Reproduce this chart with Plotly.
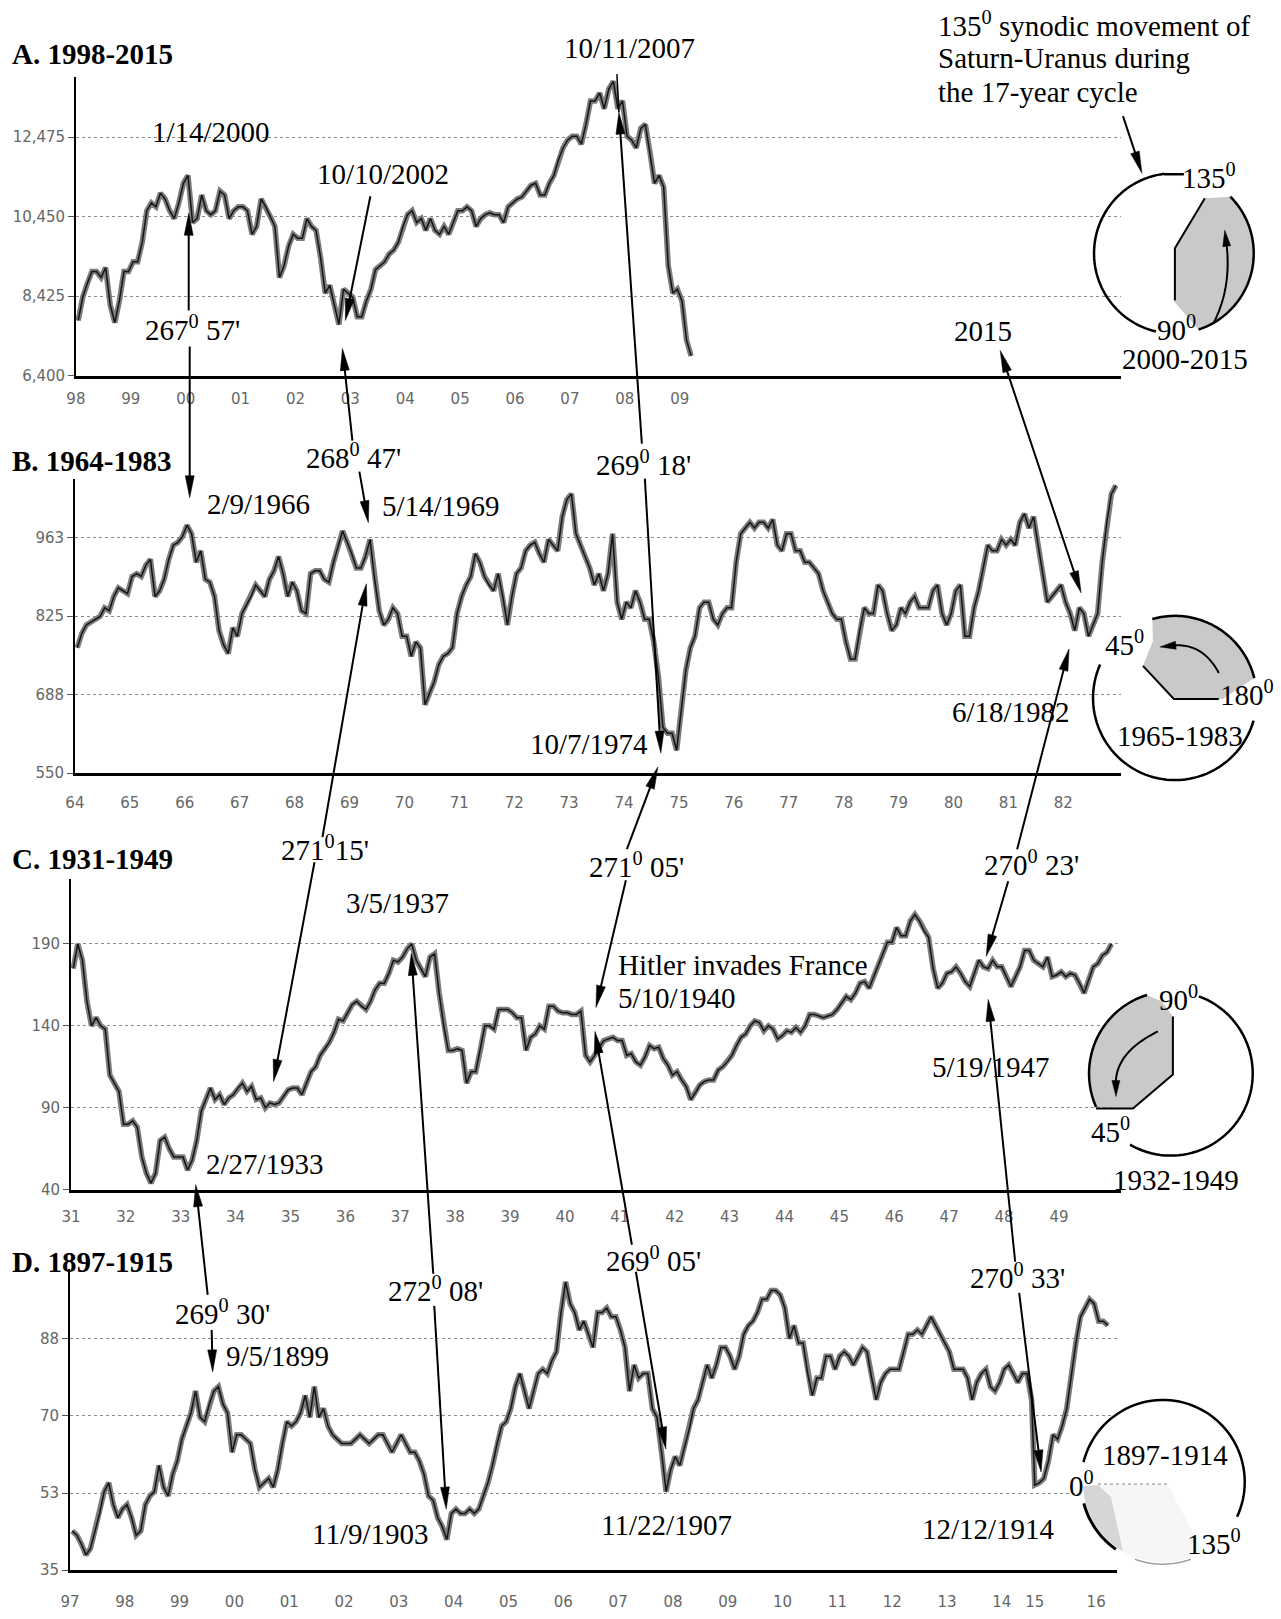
import numpy as np
import plotly.graph_objects as go

W, H = 1281, 1619
SERIF = "Liberation Serif"
SANS = "DejaVu Sans"

# ---------------- data (monthly levels) ----------------
a_start = 1998
a_values = [
    7800, 8400, 8750, 9050, 9050, 8900, 9150, 8200, 7750, 8300, 9050, 9050,
    9300, 9300, 9800, 10600, 10800, 10700, 11050, 10900, 10600, 10400, 10800, 11300,
    11500, 10300, 10400, 11000, 10600, 10500, 10600, 11100, 11000, 10400, 10600, 10700,
    10700, 10600, 10000, 10200, 10900, 10700, 10450, 10200, 8900, 9200, 9700, 10000,
    9900, 9900, 10400, 10200, 10100, 9400, 8500, 8700, 8200, 7700, 8600, 8500,
    8400, 7900, 7900, 8300, 8600, 9100, 9200, 9300, 9500, 9600, 9800, 10200,
    10500, 10600, 10300, 10400, 10100, 10400, 10100, 10000, 10200, 10000, 10300, 10600,
    10600, 10700, 10600, 10200, 10400, 10500, 10550, 10500, 10500, 10300, 10700, 10800,
    10900, 10950, 11100, 11250, 11300, 11000, 11000, 11300, 11500, 11900, 12200, 12400,
    12500, 12500, 12300, 12800, 13400, 13400, 13600, 13200, 13700, 13900, 13200, 13400,
    12500, 12400, 12200, 12700, 12800, 12100, 11300, 11500, 11200, 9200, 8500, 8600,
    8300, 7300, 6900,
]
a_tick_years = list(range(1998, 2010))
a_tick_text = ["98", "99", "00", "01", "02", "03", "04", "05", "06", "07", "08", "09"]
a_y_ticks = [6400, 8425, 10450, 12475]
a_y_text = ["6,400", "8,425", "10,450", "12,475"]

b_start = 1964
b_values = [
    770, 795, 810, 815, 820, 825, 840, 835, 860, 875, 870, 865,
    895, 900, 895, 915, 925, 860, 870, 890, 925, 950, 955, 965,
    985, 970, 920, 940, 890, 885, 860, 800, 775, 760, 805, 790,
    830, 845, 860, 880, 870, 860, 890, 905, 930, 900, 860, 885,
    870, 835, 830, 900, 905, 905, 890, 885, 920, 950, 975, 955,
    935, 910, 910, 930, 960, 890, 835, 810, 820, 840, 830, 790,
    790, 755, 780, 770, 670, 690, 710, 740, 755, 760, 770, 830,
    860, 880, 895, 935, 920, 895, 880, 870, 900, 860, 810, 860,
    900, 910, 940, 950, 955, 935, 920, 960, 950, 940, 1000, 1030,
    1040, 970, 950, 930, 910, 880, 900, 870, 900, 970, 850, 820,
    850, 840, 870, 850, 820, 820, 780, 720, 630, 620, 620, 590,
    660, 730, 770, 790, 840, 850, 850, 820, 810, 830, 840, 840,
    920, 970, 980, 990, 980, 990, 990, 980, 995, 950, 940, 970,
    970, 940, 940, 920, 920, 910, 900, 870, 850, 830, 820, 820,
    780, 750, 750, 800, 840, 830, 830, 880, 870, 830, 800, 810,
    840, 830, 850, 860, 840, 840, 840, 870, 880, 830, 810, 830,
    870, 880, 790, 790, 840, 870, 910, 950, 940, 940, 960, 950,
    960, 950, 990, 1005, 980, 1000, 950, 900, 850, 860, 870, 880,
    850, 830, 800, 840, 830, 790, 810, 830, 920, 990, 1040, 1055,
]
b_tick_years = list(range(1964, 1983))
b_tick_text = ["64", "65", "66", "67", "68", "69", "70", "71", "72", "73",
               "74", "75", "76", "77", "78", "79", "80", "81", "82"]
b_y_ticks = [550, 687.67, 825.33, 963]
b_y_text = ["550", "688", "825", "963"]

c_start = 1931
c_values = [
    175, 190, 180, 155, 140, 145, 140, 138, 110, 105, 100, 80,
    80, 82, 78, 60, 50, 44, 50, 70, 72, 65, 60, 60,
    60, 52, 58, 70, 88, 95, 102, 95, 98, 92, 96, 98,
    102, 105, 100, 103, 95, 96, 90, 93, 92, 93, 97, 101,
    102, 102, 98, 105, 112, 115, 122, 126, 130, 136, 144, 143,
    148, 153, 155, 152, 150, 155, 162, 166, 166, 172, 180, 179,
    182, 187, 190, 180, 175, 170, 182, 184, 160, 140, 125, 125,
    126, 125, 105, 112, 112, 125, 140, 140, 138, 150, 150, 150,
    148, 145, 145, 125, 133, 135, 140, 138, 152, 152, 149, 148,
    148, 147, 147, 149, 122, 118, 122, 127, 131, 132, 133, 131,
    131, 122, 123, 118, 116, 121, 128, 126, 127, 120, 116, 110,
    112, 107, 103, 95, 99, 104, 106, 107, 107, 113, 115, 118,
    122, 128, 133, 135, 140, 143, 142, 137, 140, 138, 132, 134,
    137, 136, 139, 136, 140, 147, 147, 146, 145, 146, 147, 150,
    154, 158, 156, 160, 166, 167, 163, 170, 178, 184, 191, 191,
    200, 195, 195, 204, 208, 204, 198, 194, 175, 163, 166, 172,
    173, 176, 172, 167, 164, 172, 180, 176, 175, 180, 176, 176,
    170, 164, 170, 176, 186, 186, 180, 178, 176, 182, 170, 171,
    173, 170, 172, 171, 166, 160, 168, 176, 178, 183, 185, 190,
]
c_tick_years = list(range(1931, 1950))
c_tick_text = ["31", "32", "33", "34", "35", "36", "37", "38", "39", "40",
               "41", "42", "43", "44", "45", "46", "47", "48", "49"]
c_y_ticks = [40, 90, 140, 190]
c_y_text = ["40", "90", "140", "190"]

d_start = 1897
d_values_pre = [
    44, 43, 41, 38.5, 40, 44, 48, 53, 55, 50, 47, 49,
    50, 47, 43, 44, 50, 52, 53, 59, 54, 52, 57, 60,
    65, 68, 71, 76, 70, 69, 73, 76, 77, 73, 71, 62,
    66, 66, 65, 64, 58, 54, 55, 56, 54, 58, 64, 69,
    68, 69, 71, 75, 70, 77, 70, 72, 68, 66, 65, 64,
    64, 64, 65, 66, 65, 64, 65, 66, 66, 64, 62, 64,
    66, 64, 62, 62, 60, 57, 52, 51, 47, 45, 42, 48,
    49, 48, 48, 49, 48, 49, 52, 55, 59, 64, 68, 69,
    72, 77, 80, 76, 72, 76, 80, 81, 80, 83, 85, 94,
    101, 96, 94, 90, 92, 89, 86, 94, 94, 95, 93, 93,
    90, 86, 76, 82, 79, 80, 80, 72, 70, 62, 53, 58,
    61, 59, 63, 67, 72, 74, 78, 82, 79, 82, 86, 86,
    84, 81, 84, 89, 91, 92, 94, 97, 97, 99, 99, 98,
    95, 88, 91, 87, 87, 80, 75, 79, 79, 84, 84, 81,
    84, 85, 84, 82, 84, 86, 85, 79, 74, 78, 80, 81,
    81, 81, 85, 89, 89, 90, 89, 91, 93, 91, 89, 87,
    85, 81, 81, 81, 79, 74, 78, 80, 81, 77, 76, 78,
    81, 82, 80, 78, 80, 80, 74,
]
d_resume = 1914.6
d_values_post = [54.5, 55, 56, 60, 66, 65, 68, 72, 80, 87, 93, 95, 97, 96, 92, 92, 91]
d_tick_pos = list(range(1897, 1915)) + [1914.6, 1915.72]
d_tick_text = ["97", "98", "99", "00", "01", "02", "03", "04", "05", "06", "07",
               "08", "09", "10", "11", "12", "13", "14", "15", "16"]
d_y_ticks = [35, 52.67, 70.33, 88]
d_y_text = ["35", "53", "70", "88"]

# ---------------- helpers (page-pixel -> paper) ----------------
def px(x):
    return (x * 1.006 - 7) / W

def py(y):
    return 1 - (y * 1.007) / H

def P(x, y):
    return f"{px(x):.5f},{py(y):.5f}"

shapes = []
annotations = []

def text(s, x, y, size=29, anchor="center", bold=False, color="black"):
    if bold:
        s = f"<b>{s}</b>"
    annotations.append(dict(text=s, x=px(x), y=py(y), xref="paper", yref="paper",
                            showarrow=False, xanchor=anchor, yanchor="middle",
                            font=dict(family=SERIF, size=size, color=color)))

def seg(p0, p1, width=2, color="black", dash=None):
    ln = dict(color=color, width=width)
    if dash:
        ln["dash"] = dash
    shapes.append(dict(type="line", xref="paper", yref="paper",
                       x0=px(p0[0]), y0=py(p0[1]), x1=px(p1[0]), y1=py(p1[1]), line=ln))

def head(tip, frm, L=22, hw=4.5):
    tx, ty = tip
    dx, dy = tx - frm[0], ty - frm[1]
    n = np.hypot(dx, dy)
    ux, uy = dx / n, dy / n
    bx, by = tx - L * ux, ty - L * uy
    pts = [(tx, ty), (bx - hw * uy, by + hw * ux), (bx + hw * uy, by - hw * ux)]
    shapes.append(dict(type="path", xref="paper", yref="paper",
                       path="M " + " L ".join(P(*p) for p in pts) + " Z",
                       fillcolor="black", line=dict(color="black", width=0.5)))
    return (tx - (L - 4) * ux, ty - (L - 4) * uy)

def arrow(tip, tail, both=False, L=22, hw=4.5, width=2):
    end = head(tip, tail, L, hw)
    start = tail
    if both:
        start = head(tail, tip, L, hw)
    seg(start, end, width=width)

def arc_pts(cx, cy, r, a0, a1, n=60):
    angs = np.radians(np.linspace(a0, a1, n))
    return [(cx + r * np.cos(a), cy - r * np.sin(a)) for a in angs]

def poly(pts, close=False, fill=None, color="black", width=2):
    path = "M " + " L ".join(P(*p) for p in pts) + (" Z" if close else "")
    d = dict(type="path", xref="paper", yref="paper", path=path,
             line=dict(color=color, width=width))
    if fill:
        d["fillcolor"] = fill
    shapes.append(d)

def quad(p0, c, p2, n=30):
    t = np.linspace(0, 1, n)
    return [((1 - s) ** 2 * p0[0] + 2 * (1 - s) * s * c[0] + s ** 2 * p2[0],
             (1 - s) ** 2 * p0[1] + 2 * (1 - s) * s * c[1] + s ** 2 * p2[1]) for s in t]

# ---------------- figure ----------------
fig = go.Figure()

def months(start, n):
    return start + (np.arange(n) + 0.5) / 12.0

series = [
    (months(a_start, len(a_values)), a_values, "x", "y"),
    (months(b_start, len(b_values)), b_values, "x2", "y2"),
    (months(c_start, len(c_values)), c_values, "x3", "y3"),
    (np.concatenate([months(d_start, len(d_values_pre)),
                     d_resume + np.arange(len(d_values_post)) / 12.0]),
     d_values_pre + d_values_post, "x4", "y4"),
]
for xs, ys, xa, ya in series:
    fig.add_trace(go.Scatter(x=xs, y=ys, mode="lines", xaxis=xa, yaxis=ya,
                             line=dict(color="#7c7c7c", width=5.5), hoverinfo="skip",
                             showlegend=False))
    fig.add_trace(go.Scatter(x=xs, y=ys, mode="lines", xaxis=xa, yaxis=ya,
                             line=dict(color="#151515", width=1.5), hoverinfo="skip",
                             showlegend=False))

panels = [
    ("", 73, 1120, 77, 375, [1998, 2017.04], [6400, 14006], 8,
     a_tick_years, a_tick_text, a_y_ticks, a_y_text),
    ("2", 72, 1120, 478, 772, [1964, 1983.05], [550, 1066.7], 14,
     b_tick_years, b_tick_text, b_y_ticks, b_y_text),
    ("3", 68, 1120, 878, 1188, [1931, 1950.13], [40, 229.5], 12,
     c_tick_years, c_tick_text, c_y_ticks, c_y_text),
    ("4", 67, 1116, 1267, 1568, [1897, 1916.1], [35, 104], 16,
     d_tick_pos, d_tick_text, d_y_ticks, d_y_text),
]
tickfont = dict(family=SANS, size=15, color="#666666")
layout_axes = {}
for key, x0, x1, y0, y1, xr, yr, tl, xtv, xtt, ytv, ytt in panels:
    layout_axes["xaxis" + key] = dict(
        domain=[px(x0), px(x1)], range=xr, anchor="y" + key,
        showgrid=False, zeroline=False, showline=True, linecolor="black", linewidth=2.5,
        tickmode="array", tickvals=xtv, ticktext=xtt, ticks="outside", ticklen=tl,
        tickcolor="rgba(0,0,0,0)", tickfont=tickfont, fixedrange=True)
    layout_axes["yaxis" + key] = dict(
        domain=[py(y1), py(y0)], range=yr, anchor="x" + key,
        showgrid=True, gridcolor="#8a8a8a", griddash="dot", gridwidth=1,
        zeroline=False, showline=True, linecolor="black", linewidth=1.5,
        tickmode="array", tickvals=ytv, ticktext=ytt, ticks="outside", ticklen=6,
        tickcolor="#555555", tickfont=tickfont, fixedrange=True)

# ---------------- panel titles ----------------
text("A. 1998-2015", 7, 54, anchor="left", bold=True)
text("B. 1964-1983", 7, 460, anchor="left", bold=True)
text("C. 1931-1949", 7, 858, anchor="left", bold=True)
text("D. 1897-1915", 7, 1260, anchor="left", bold=True)

# ---------------- date labels ----------------
for s, x, y in [("10/11/2007", 628, 48), ("1/14/2000", 208, 132), ("10/10/2002", 381, 174),
                ("2015", 982, 331), ("2/9/1966", 256, 503), ("5/14/1969", 439, 505),
                ("10/7/1974", 587, 743), ("6/18/1982", 1010, 711), ("3/5/1937", 395, 902),
                ("2/27/1933", 262, 1162), ("5/19/1947", 990, 1066), ("9/5/1899", 275, 1354),
                ("11/9/1903", 368, 1532), ("11/22/1907", 665, 1523), ("12/12/1914", 987, 1527)]:
    text(s, x, y)
text("Hitler invades France", 614, 964, anchor="left")
text("5/10/1940", 614, 997, anchor="left")

# ---------------- angle labels ----------------
for s, x, y in [("267<sup>0</sup> 57'", 190, 328), ("268<sup>0</sup> 47'", 351, 455),
                ("269<sup>0</sup> 18'", 642, 462), ("271<sup>0</sup>15'", 323, 847),
                ("271<sup>0</sup> 05'", 635, 864), ("270<sup>0</sup> 23'", 1030, 862),
                ("269<sup>0</sup> 30'", 220, 1310), ("272<sup>0</sup> 08'", 433, 1287),
                ("269<sup>0</sup> 05'", 652, 1257), ("270<sup>0</sup> 33'", 1016, 1274)]:
    text(s, x, y)

# ---------------- connecting arrows ----------------
for tip, tail in [((186, 213), (186, 310)), ((187, 497), (187, 346)),
                  ((343, 320), (368, 196)), ((340, 348), (350, 440)),
                  ((366, 522), (357, 471)), ((617, 112), (640, 443)),
                  ((659, 752), (643, 478)), ((364, 583), (320, 836)),
                  ((271, 1080), (312, 861)), ((656, 766), (625, 848)),
                  ((594, 1006), (624, 879)), ((1068, 648), (1016, 848)),
                  ((985, 955), (1007, 880)), ((193, 1183), (205, 1293)),
                  ((210, 1370), (209, 1328)), ((409, 952), (431, 1272)),
                  ((444, 1507), (432, 1304)), ((593, 1030), (630, 1243)),
                  ((664, 1447), (634, 1270)), ((987, 998), (1014, 1260)),
                  ((1040, 1470), (1018, 1291)), ((1141, 173), (1122, 116))]:
    arrow(tip, tail)
seg((617, 112), (615, 74), width=1.5)
arrow((1080, 592), (999, 350), both=True)

# ---------------- explanatory text ----------------
text("135<sup>0</sup> synodic movement of", 935, 24, anchor="left")
text("Saturn-Uranus during", 935, 58, anchor="left")
text("the 17-year cycle", 935, 92, anchor="left")

# ---------------- circle A (2000-2015) ----------------
o = -10
cx, cy, r = 1183 + o, 253, 80
shade_a = [(1214 + o, 198)] + arc_pts(cx, cy, r, 45, -72) + [(1184 + o, 302), (1184 + o, 248)]
poly(shade_a, close=True, fill="#c9c9c9", color="rgba(0,0,0,0)", width=0)
poly(arc_pts(cx, cy, r, 97, 257), width=2.5)
seg((1173 + o, 174), (1193 + o, 174), width=2.5)
poly(arc_pts(cx, cy, r, 45, -72), width=2.5)
poly([(1214 + o, 198), (1184 + o, 248), (1184 + o, 300)], width=2)
curve = quad((1223 + o, 322), (1242 + o, 285), (1235 + o, 238))
poly(curve, width=2)
head((1234 + o, 230), curve[-4], L=16, hw=4)
text("135<sup>0</sup>", 1218 + o, 176)
text("90<sup>0</sup>", 1186 + o, 328)
text("2000-2015", 1184, 358)

# ---------------- circle B (1965-1983) ----------------
o = -4
cx, cy, r = 1178 + o, 697, 82
shade_b = arc_pts(cx, cy, r, 14, 106) + [(1156 + o, 640), (1146 + o, 665), (1177 + o, 698), (1226 + o, 698)]
poly(shade_b, close=True, fill="#c9c9c9", color="rgba(0,0,0,0)", width=0)
poly(arc_pts(cx, cy, r, 156, 344), width=2.5)
poly(arc_pts(cx, cy, r, 14, 106), width=2.5)
poly([(1146 + o, 665), (1177 + o, 698), (1222 + o, 698)], width=2)
curve = quad((1222 + o, 672), (1205 + o, 640), (1172 + o, 645))
poly(curve, width=2)
head((1163 + o, 646), curve[-4], L=16, hw=4)
text("45<sup>0</sup>", 1128 + o, 642)
text("180<sup>0</sup>", 1250 + o, 692)
text("1965-1983", 1183 + o, 735)

# ---------------- circle C (1932-1949) ----------------
o = -5
cx, cy, r = 1175 + o, 1072, 82
shade_c = arc_pts(cx, cy, r, 107, 204) + [(1137 + o, 1107), (1177 + o, 1073), (1177 + o, 1015), (1166 + o, 1000)]
poly(shade_c, close=True, fill="#c9c9c9", color="rgba(0,0,0,0)", width=0)
poly(arc_pts(cx, cy, r, 70, -120), width=2.5)
poly(arc_pts(cx, cy, r, 107, 204), width=2.5)
poly([(1100 + o, 1107), (1137 + o, 1107), (1177 + o, 1073), (1177 + o, 1015)], width=2)
curve = quad((1162 + o, 1030), (1117 + o, 1052), (1120 + o, 1086))
poly(curve, width=2)
head((1120 + o, 1095), curve[-4], L=16, hw=4)
text("90<sup>0</sup>", 1183 + o, 997)
text("45<sup>0</sup>", 1115 + o, 1128)
text("1932-1949", 1180 + o, 1178)

# ---------------- circle D (1897-1914) ----------------
cx, cy, r = 1162, 1480, 82
poly([(1097, 1483)] + arc_pts(cx, cy, r - 2, 183, 300) + [(1167, 1483)], close=True,
     fill="#f6f6f6", color="rgba(0,0,0,0)", width=0)
poly([(1097, 1483)] + arc_pts(cx, cy, r - 2, 183, 240) + [(1110, 1495)], close=True,
     fill="#d6d6d6", color="rgba(0,0,0,0)", width=0)
poly(arc_pts(cx, cy, r, 166, -25), width=2.5)
poly(arc_pts(cx, cy, r, 195, 235), width=3)
poly(arc_pts(cx, cy, r, 250, 290), width=1.5, color="#a0a0a0")
seg((1097, 1482), (1167, 1482), width=1.2, color="#9a9a9a", dash="dot")
text("0<sup>0</sup>", 1080, 1482)
text("135<sup>0</sup>", 1213, 1540)
text("1897-1914", 1164, 1453)

fig.update_layout(
    width=W, height=H, autosize=False,
    margin=dict(l=0, r=0, t=0, b=0),
    paper_bgcolor="white", plot_bgcolor="white",
    showlegend=False, shapes=shapes, annotations=annotations,
    **layout_axes,
)

fig.write_html("out.html", config={"displayModeBar": False},
               post_script="document.body.style.margin='0';document.body.style.overflow='hidden';")
